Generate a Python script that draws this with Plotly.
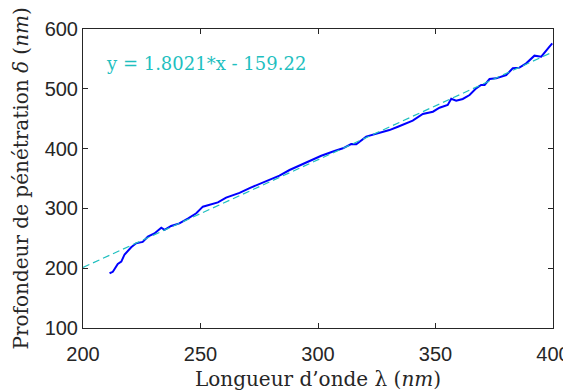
import plotly.graph_objects as go

# mesured penetration depth vs wavelength
wavelength = [211.3, 212.7, 214.8, 216.3, 217.7, 220.5, 222.6, 225.4, 227.6, 230.4,
              233.3, 234.7, 237.5, 241.0, 244.6, 248.2, 251.0, 253.8, 257.4, 260.9,
              266.6, 270.9, 277.0, 283.6, 287.9, 294.3, 297.1, 301.4, 307.0, 310.6,
              314.1, 316.3, 320.5, 326.2, 330.4, 334.0, 337.5, 340.3, 344.6, 348.9,
              351.7, 355.2, 356.7, 358.8, 361.6, 364.5, 367.3, 369.4, 370.9, 373.0,
              375.8, 380.1, 382.9, 385.7, 388.6, 392.1, 395.0, 397.1, 398.5, 399.7]
depth = [191.5, 194.0, 207.0, 211.0, 223.0, 235.0, 241.6, 244.0, 252.7, 258.0,
         267.8, 264.0, 270.6, 275.0, 283.0, 291.8, 302.9, 305.7, 310.0, 318.0,
         326.0, 334.0, 344.0, 354.7, 364.2, 375.4, 381.0, 388.0, 396.0, 400.5,
         407.7, 407.2, 420.0, 425.6, 431.0, 436.6, 442.3, 446.7, 457.9, 461.7,
         468.4, 472.9, 483.4, 480.0, 483.0, 489.6, 500.8, 506.4, 506.4, 516.4,
         517.5, 523.0, 534.3, 535.4, 542.6, 555.4, 553.7, 564.9, 570.4, 576.0]

# linear fit
slope = 1.8021
intercept = -159.22
fit_x = [200, 400]
fit_y = [slope * v + intercept for v in fit_x]

x_ticks = [200, 250, 300, 350, 400]
y_ticks = [100, 200, 300, 400, 500, 600]

SERIF = "DejaVu Serif"
fig = go.Figure()
fig.add_trace(go.Scatter(x=wavelength, y=depth, mode="lines",
                         line=dict(color="#0000ff", width=2)))
fig.add_trace(go.Scatter(x=fit_x, y=fit_y, mode="lines",
                         line=dict(color="#1fbfbf", width=1.2, dash="7px,4px")))

fig.add_annotation(x=209, y=543, xref="x", yref="y", xanchor="left", yanchor="middle",
                   text="y = 1.8021*x - 159.22", showarrow=False,
                   font=dict(family=SERIF, size=18, color="#1fbfbf"))

# y label as an annotation so it can sit closer to the page edge
fig.add_annotation(x=-0.132, y=0.5, xref="paper", yref="paper", xanchor="center",
                   yanchor="middle", textangle=-90, showarrow=False,
                   text="Profondeur de pénétration <i>δ</i> (<i>nm</i>)",
                   font=dict(family=SERIF, size=20, color="#262626"))

axis_common = dict(showline=True, linecolor="#262626", linewidth=1, mirror="ticks",
                   ticks="inside", ticklen=5, tickcolor="#262626", showgrid=False,
                   zeroline=False, automargin=False,
                   tickfont=dict(family="Liberation Sans", size=20, color="#262626"))

fig.update_xaxes(range=[200, 400], tickvals=x_ticks, ticklabelstandoff=8,
                 title=dict(text="Longueur d’onde λ (<i>nm</i>)", standoff=11,
                            font=dict(family=SERIF, size=20, color="#262626")),
                 **axis_common)
fig.update_yaxes(range=[100, 600], tickvals=y_ticks, ticklabelstandoff=0,
                 **axis_common)

# page body has an 8px margin, so the figure is a bit smaller than the window
fig.update_layout(width=563, height=383, showlegend=False,
                  margin=dict(l=75, r=18, t=21, b=63),
                  plot_bgcolor="white", paper_bgcolor="white")

fig.write_html("out.html")
